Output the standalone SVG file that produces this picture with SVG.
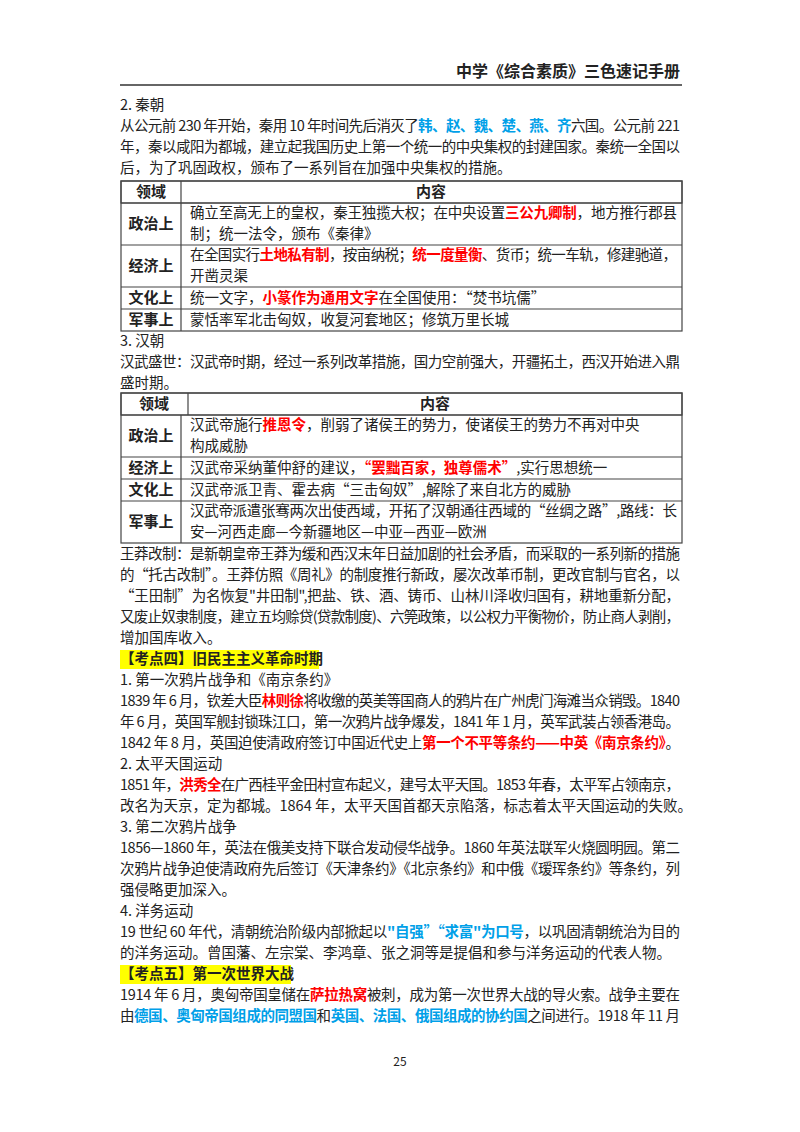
<svg xmlns="http://www.w3.org/2000/svg" width="800" height="1132" viewBox="0 0 800 1132">
<style>
text{font-family:"Noto Sans CJK SC","Liberation Sans",sans-serif;font-size:14.5px;fill:#222}
.b{font-weight:bold}
.r{fill:#ff0000;font-weight:bold}
.u{fill:#00a0e8;font-weight:bold}
.h{font-weight:bold;font-size:15px}
.c{text-anchor:middle}
.g line,.g rect{stroke:#444;stroke-width:1.2;fill:none}
.hd{fill:#dce6f2;stroke:none}
</style>
<rect width="800" height="1132" fill="#fff"/>
<g id="header">
<text x="680" y="77" class="b" text-anchor="end" style="font-size:16px">中学《综合素质》三色速记手册</text>
<line x1="120" y1="85" x2="682" y2="85" stroke="#333" stroke-width="1.5"/>
</g>
<g id="qin">
<text x="120" y="110">2. 秦朝</text>
<text x="120" y="131" textLength="560" lengthAdjust="spacing">从公元前 230 年开始，秦用 10 年时间先后消灭了<tspan class="u">韩、赵、魏、楚、燕、齐</tspan>六国。公元前 221</text>
<text x="120" y="152" textLength="560" lengthAdjust="spacing">年，秦以咸阳为都城，建立起我国历史上第一个统一的中央集权的封建国家。秦统一全国以</text>
<text x="120" y="173">后，为了巩固政权，颁布了一系列旨在加强中央集权的措施。</text>
</g>
<g id="table1" class="g">
<rect class="hd" x="121" y="181" width="561" height="22"/>
<rect x="121" y="181" width="561" height="150"/>
<line x1="121" y1="203" x2="682" y2="203"/>
<line x1="121" y1="245" x2="682" y2="245"/>
<line x1="121" y1="287" x2="682" y2="287"/>
<line x1="121" y1="309" x2="682" y2="309"/>
<line x1="181" y1="181" x2="181" y2="331"/>
<text x="151" y="197" class="h c">领域</text>
<text x="431" y="197" class="h c">内容</text>
<text x="151" y="229" class="h c">政治上</text>
<text x="190" y="218" textLength="487" lengthAdjust="spacing">确立至高无上的皇权，秦王独揽大权；在中央设置<tspan class="r">三公九卿制</tspan>，地方推行郡县</text>
<text x="190" y="239">制；统一法令，颁布《秦律》</text>
<text x="151" y="271" class="h c">经济上</text>
<text x="190" y="260" textLength="487" lengthAdjust="spacing">在全国实行<tspan class="r">土地私有制</tspan>，按亩纳税；<tspan class="r">统一度量衡</tspan>、货币；统一车轨，修建驰道，</text>
<text x="190" y="281">开凿灵渠</text>
<text x="151" y="303" class="h c">文化上</text>
<text x="190" y="303">统一文字，<tspan class="r">小篆作为通用文字</tspan>在全国使用：“焚书坑儒”</text>
<text x="151" y="325" class="h c">军事上</text>
<text x="190" y="325">蒙恬率军北击匈奴，收复河套地区；修筑万里长城</text>
</g>
<g id="han">
<text x="120" y="346">3. 汉朝</text>
<text x="120" y="367" textLength="560" lengthAdjust="spacing">汉武盛世：汉武帝时期，经过一系列改革措施，国力空前强大，开疆拓土，西汉开始进入鼎</text>
<text x="120" y="388">盛时期。</text>
</g>
<g id="table2" class="g">
<rect class="hd" x="121" y="393" width="561" height="22"/>
<rect x="121" y="393" width="561" height="150"/>
<line x1="121" y1="415" x2="682" y2="415"/>
<line x1="121" y1="457" x2="682" y2="457"/>
<line x1="121" y1="479" x2="682" y2="479"/>
<line x1="121" y1="501" x2="682" y2="501"/>
<line x1="188" y1="393" x2="188" y2="415"/>
<line x1="181" y1="415" x2="181" y2="543"/>
<text x="154" y="409" class="h c">领域</text>
<text x="435" y="409" class="h c">内容</text>
<text x="151" y="441" class="h c">政治上</text>
<text x="190" y="430">汉武帝施行<tspan class="r">推恩令</tspan>，削弱了诸侯王的势力，使诸侯王的势力不再对中央</text>
<text x="190" y="451">构成威胁</text>
<text x="151" y="473" class="h c">经济上</text>
<text x="190" y="473">汉武帝采纳董仲舒的建议，<tspan class="r">“罢黜百家，独尊儒术”</tspan>,实行思想统一</text>
<text x="151" y="495" class="h c">文化上</text>
<text x="190" y="495">汉武帝派卫青、霍去病“三击匈奴”,解除了来自北方的威胁</text>
<text x="151" y="527" class="h c">军事上</text>
<text x="190" y="516" textLength="487" lengthAdjust="spacing">汉武帝派遣张骞两次出使西域，开拓了汉朝通往西域的“丝绸之路”,路线：长</text>
<text x="190" y="537">安—河西走廊—今新疆地区—中亚—西亚—欧洲</text>
</g>
<g id="wangmang">
<text x="120" y="559" textLength="560" lengthAdjust="spacing">王莽改制：是新朝皇帝王莽为缓和西汉末年日益加剧的社会矛盾，而采取的一系列新的措施</text>
<text x="120" y="580" textLength="560" lengthAdjust="spacing">的“托古改制”。王莽仿照《周礼》的制度推行新政，屡次改革币制，更改官制与官名，以</text>
<text x="120" y="601" textLength="560" lengthAdjust="spacing">“王田制”为名恢复"井田制",把盐、铁、酒、铸币、山林川泽收归国有，耕地重新分配，</text>
<text x="120" y="622" textLength="560" lengthAdjust="spacing">又废止奴隶制度，建立五均赊贷(贷款制度)、六筦政策，以公权力平衡物价，防止商人剥削，</text>
<text x="120" y="643">增加国库收入。</text>
</g>
<g id="kaodian4">
<rect x="120" y="650" width="199" height="19" fill="#ffff00"/>
<text x="120" y="664" class="b">【考点四】旧民主主义革命时期</text>
<text x="120" y="685">1. 第一次鸦片战争和《南京条约》</text>
<text x="120" y="706" textLength="560" lengthAdjust="spacing">1839 年 6 月，钦差大臣<tspan class="r">林则徐</tspan>将收缴的英美等国商人的鸦片在广州虎门海滩当众销毁。1840</text>
<text x="120" y="727" textLength="560" lengthAdjust="spacing">年 6 月，英国军舰封锁珠江口，第一次鸦片战争爆发，1841 年 1 月，英军武装占领香港岛。</text>
<text x="120" y="748" textLength="560" lengthAdjust="spacing">1842 年 8 月，英国迫使清政府签订中国近代史上<tspan class="r">第一个不平等条约——中英《南京条约》</tspan>。</text>
<text x="120" y="769">2. 太平天国运动</text>
<text x="120" y="790" textLength="560" lengthAdjust="spacing">1851 年，<tspan class="r">洪秀全</tspan>在广西桂平金田村宣布起义，建号太平天国。1853 年春，太平军占领南京，</text>
<text x="120" y="811">改名为天京，定为都城。1864 年，太平天国首都天京陷落，标志着太平天国运动的失败。</text>
<text x="120" y="832">3. 第二次鸦片战争</text>
<text x="120" y="853" textLength="560" lengthAdjust="spacing">1856—1860 年，英法在俄美支持下联合发动侵华战争。1860 年英法联军火烧圆明园。第二</text>
<text x="120" y="874" textLength="560" lengthAdjust="spacing">次鸦片战争迫使清政府先后签订《天津条约》《北京条约》和中俄《瑷珲条约》等条约，列</text>
<text x="120" y="895">强侵略更加深入。</text>
<text x="120" y="916">4. 洋务运动</text>
<text x="120" y="937" textLength="560" lengthAdjust="spacing">19 世纪 60 年代，清朝统治阶级内部掀起以<tspan class="u">"自强”“求富"为口号</tspan>，以巩固清朝统治为目的</text>
<text x="120" y="958">的洋务运动。曾国藩、左宗棠、李鸿章、张之洞等是提倡和参与洋务运动的代表人物。</text>
</g>
<g id="kaodian5">
<rect x="120" y="965" width="171" height="19" fill="#ffff00"/>
<text x="120" y="979" class="b">【考点五】第一次世界大战</text>
<text x="120" y="1000" textLength="560" lengthAdjust="spacing">1914 年 6 月，奥匈帝国皇储在<tspan class="r">萨拉热窝</tspan>被刺，成为第一次世界大战的导火索。战争主要在</text>
<text x="120" y="1021" textLength="560" lengthAdjust="spacing">由<tspan class="u">德国、奥匈帝国组成的同盟国</tspan>和<tspan class="u">英国、法国、俄国组成的协约国</tspan>之间进行。1918 年 11 月</text>
</g>
<text x="400" y="1066" class="c" style="font-size:12px">25</text>
</svg>
